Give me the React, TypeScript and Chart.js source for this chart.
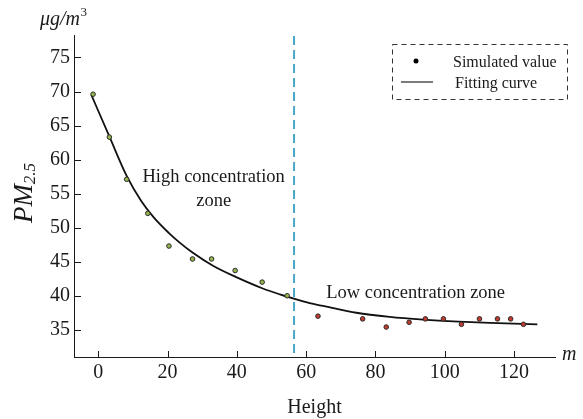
import React, { useEffect, useRef } from 'react';
import { Chart, registerables } from 'chart.js';

Chart.register(...registerables);

// Simulated PM2.5 values at each height (m)
const heights = [-1.5, 3.2, 8.2, 14.3, 20.4, 27.2, 32.7, 39.5, 47.3, 54.5, 63.4, 76.3, 83.1, 89.7, 94.4, 99.6, 104.8, 110.0, 115.2, 119.0, 122.7];
const pm25 = [69.6, 63.3, 57.1, 52.1, 47.3, 45.4, 45.4, 43.7, 42.0, 40.0, 37.0, 36.6, 35.4, 36.1, 36.6, 36.6, 35.8, 36.6, 36.6, 36.6, 35.8];

// Fitting curve
const curveHeights = [-2.0, 3.2, 8.2, 12.4, 16.0, 20.4, 23.5, 27.3, 33.1, 39.5, 47.3, 52.4, 56.2, 61.0, 64.9, 74.5, 84.1, 93.8, 104.0, 113.0, 126.7];
const curveValues = [69.5, 63.4, 57.6, 53.9, 51.5, 49.2, 47.8, 46.3, 44.4, 42.8, 41.1, 40.2, 39.6, 38.9, 38.5, 37.5, 36.9, 36.5, 36.2, 36.0, 35.8];

const xTicks = [0, 20, 40, 60, 80, 100, 120];
const yTicks = [35, 40, 45, 50, 55, 60, 65, 70, 75];
const zoneBoundary = 56.5;

const legendLabels = ['Simulated value', 'Fitting curve'];
const highZoneLabel = ['High concentration', 'zone'];
const lowZoneLabel = 'Low concentration zone';

export default function App() {
  const ref = useRef<HTMLCanvasElement>(null);

  useEffect(() => {
    const canvas = ref.current;
    if (!canvas) return;
    const serif = '"Liberation Serif", "Times New Roman", serif';
    const ink = '#1a1a1a';
    const green = '#93b54c';
    const red = '#c23b31';

    const overlay = {
      id: 'overlay',
      beforeDatasetsDraw(chart: any) {
        const { ctx, chartArea: a, scales } = chart;
        const bx = scales.x.getPixelForValue(zoneBoundary);
        ctx.save();
        ctx.strokeStyle = '#4aa6c9';
        ctx.lineWidth = 2;
        ctx.setLineDash([9, 5]);
        ctx.beginPath();
        ctx.moveTo(bx, a.top + 1);
        ctx.lineTo(bx, a.bottom);
        ctx.stroke();
        ctx.restore();
      },
      afterDraw(chart: any) {
        const { ctx, chartArea: a, scales } = chart;
        const x = scales.x;
        const y = scales.y;
        ctx.save();
        // inward tick marks
        ctx.strokeStyle = ink;
        ctx.lineWidth = 1;
        ctx.beginPath();
        for (const v of yTicks) {
          const py = Math.round(y.getPixelForValue(v)) + 0.5;
          ctx.moveTo(a.left, py);
          ctx.lineTo(a.left + 7, py);
        }
        for (const v of xTicks) {
          const px = Math.round(x.getPixelForValue(v)) + 0.5;
          ctx.moveTo(px, a.bottom);
          ctx.lineTo(px, a.bottom - 6);
        }
        ctx.stroke();

        ctx.fillStyle = ink;
        // axis unit "m"
        ctx.font = `italic 20px ${serif}`;
        ctx.textAlign = 'left';
        ctx.textBaseline = 'alphabetic';
        ctx.fillText('m', a.right + 7, a.bottom + 3);
        // y unit
        ctx.textAlign = 'right';
        ctx.fillText('\u03bcg/m', a.left + 6, a.top - 10);
        ctx.font = `13px ${serif}`;
        ctx.textAlign = 'left';
        ctx.fillText('3', a.left + 6.5, a.top - 19);

        // y title PM2.5 rotated
        ctx.save();
        ctx.translate(25, 193);
        ctx.rotate(-Math.PI / 2);
        ctx.textBaseline = 'middle';
        ctx.textAlign = 'left';
        ctx.font = `italic 27px ${serif}`;
        const w1 = ctx.measureText('PM').width;
        ctx.font = `italic 17px ${serif}`;
        const w2 = ctx.measureText('2.5').width;
        const start = -(w1 + w2) / 2;
        ctx.font = `italic 27px ${serif}`;
        ctx.fillText('PM', start, 0);
        ctx.font = `italic 17px ${serif}`;
        ctx.fillText('2.5', start + w1, 6);
        ctx.restore();

        // zone annotations
        ctx.font = `18.5px ${serif}`;
        ctx.textAlign = 'center';
        ctx.textBaseline = 'alphabetic';
        const hx = x.getPixelForValue(33.3);
        const hy = y.getPixelForValue(56.7);
        ctx.fillText(highZoneLabel[0], hx, hy);
        ctx.fillText(highZoneLabel[1], hx, hy + 23.5);
        ctx.fillText(lowZoneLabel, x.getPixelForValue(91.6), y.getPixelForValue(39.7));

        // legend box
        const lx = 392.5, ly = 44.5, lw = 175, lh = 55;
        ctx.strokeStyle = '#333';
        ctx.lineWidth = 1;
        ctx.setLineDash([5, 4]);
        ctx.strokeRect(lx, ly, lw, lh);
        ctx.setLineDash([]);
        ctx.fillStyle = '#000';
        ctx.beginPath();
        ctx.arc(416, 61, 2.5, 0, Math.PI * 2);
        ctx.fill();
        ctx.strokeStyle = '#222';
        ctx.lineWidth = 1.2;
        ctx.beginPath();
        ctx.moveTo(401, 82);
        ctx.lineTo(433, 82);
        ctx.stroke();
        ctx.fillStyle = ink;
        ctx.font = `16px ${serif}`;
        ctx.textAlign = 'left';
        ctx.fillText(legendLabels[0], 453, 67);
        ctx.fillText(legendLabels[1], 455, 87.5);
        ctx.restore();
      },
    };

    const chart = new Chart(canvas, {
      type: 'scatter',
      data: {
        datasets: [
          {
            label: legendLabels[0],
            data: heights.map((h, i) => ({ x: h, y: pm25[i] })),
            pointRadius: 2.3,
            pointBorderWidth: 1,
            pointBorderColor: '#2b2b2b',
            pointBackgroundColor: heights.map((h) => (h < zoneBoundary ? green : red)),
            showLine: false,
          },
          {
            label: legendLabels[1],
            data: curveHeights.map((h, i) => ({ x: h, y: curveValues[i] })),
            showLine: true,
            borderColor: '#111',
            borderWidth: 1.8,
            pointRadius: 0,
            cubicInterpolationMode: 'monotone',
          },
        ],
      },
      options: {
        animation: false,
        responsive: false,
        layout: { padding: { top: 35, right: 28, left: 0, bottom: 0 } },
        plugins: { legend: { display: false }, tooltip: { enabled: false } },
        scales: {
          x: {
            type: 'linear',
            min: -7,
            max: 131.8,
            grid: { display: false, drawTicks: false, tickLength: 0 },
            border: { display: true, color: ink, width: 1 },
            ticks: { font: { family: serif, size: 20 }, color: ink, padding: 4 },
            title: { display: true, text: 'Height', font: { family: serif, size: 20 }, color: ink, padding: { top: 0, bottom: -1 } },
            afterBuildTicks: (s: any) => { s.ticks = xTicks.map((v) => ({ value: v })); },
            afterFit: (s: any) => { s.height = 62; },
          },
          y: {
            type: 'linear',
            min: 31.0,
            max: 78.3,
            grid: { display: false, drawTicks: false, tickLength: 0 },
            border: { display: true, color: ink, width: 1 },
            ticks: { font: { family: serif, size: 20 }, color: ink, padding: 4 },
            afterBuildTicks: (s: any) => { s.ticks = yTicks.map((v) => ({ value: v })); },
            afterFit: (s: any) => { s.width = 74; },
          },
        },
      },
      plugins: [overlay],
    } as any);

    return () => chart.destroy();
  }, []);

  return (
    <div style={{ position: 'absolute', left: 0, top: 0, width: 583, height: 419, background: '#fff' }}>
      <canvas ref={ref} width={583} height={419} style={{ display: 'block' }} />
    </div>
  );
}
